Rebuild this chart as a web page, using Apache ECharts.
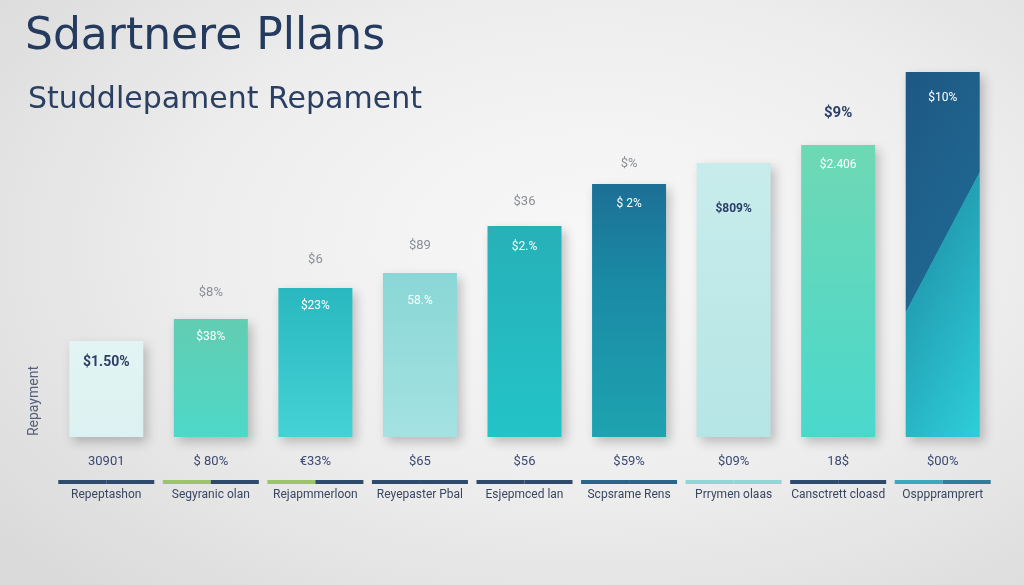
<!DOCTYPE html>
<html>
<head>
<meta charset="utf-8">
<script src="https://cdn.jsdelivr.net/npm/echarts@6/dist/echarts.min.js"></script>
<style>
html,body{margin:0;padding:0;width:1024px;height:585px;overflow:hidden;}
body{background:radial-gradient(ellipse 75% 80% at 58% 42%, #f8f8f8 0%, #eeeeee 50%, #dadada 100%);}
#chart{width:1024px;height:585px;}
</style>
</head>
<body>
<div id="chart"></div>
<script>
const categories = ['Repeptashon','Segyranic olan','Rejapmmerloon','Reyepaster Pbal','Esjepmced lan','Scpsrame Rens','Prrymen olaas','Cansctrett cloasd','Ospppramprert'];
const values = [96, 118, 149, 164, 211, 253, 274, 292, 365];
const insideLabels = ['$1.50%', '$38%', '$23%', '58.%', '$2.%', '$ 2%', '$809%', '$2.406', '$10%'];
const topLabels = ['', '$8%', '$6', '$89', '$36', '$%', '', '$9%', ''];
const valueLabels = ['30901', '$ 80%', '€33%', '$65', '$56', '$59%', '$09%', '18$', '$00%'];
const title = 'Sdartnere Pllans';
const subtitle = 'Studdlepament Repament';
const yName = 'Repayment';

// styles
const G = echarts.graphic.LinearGradient;
const barFills = [
  new G(0,0,0,1,[{offset:0,color:'#e3f4f4'},{offset:1,color:'#dcf1f1'}]),
  new G(0,0,0,1,[{offset:0,color:'#62cdb2'},{offset:1,color:'#4dd8c8'}]),
  new G(0,0,0,1,[{offset:0,color:'#2ab8c0'},{offset:1,color:'#44d2d6'}]),
  new G(0,0,0,1,[{offset:0,color:'#8ad6d6'},{offset:1,color:'#a4e2e2'}]),
  new G(0,0,0,1,[{offset:0,color:'#27b0b8'},{offset:1,color:'#22c4c8'}]),
  new G(0,0,0,1,[{offset:0,color:'#1d6f96'},{offset:0.35,color:'#1a88a4'},{offset:1,color:'#1ea3b0'}]),
  new G(0,0,0,1,[{offset:0,color:'#c8ecec'},{offset:1,color:'#b6e5e5'}]),
  new G(0,0,0,1,[{offset:0,color:'#6fd8b4'},{offset:1,color:'#4ad8cc'}]),
  new G(0,0,3,0.321,[{offset:0,color:'#1e5884'},{offset:0.445,color:'#1f6590'},{offset:0.447,color:'#23a0b4'},{offset:0.97,color:'#2ed2da'}])
];
const insideColors = ['#2c3e66','#ffffff','#ffffff','#ffffff','#ffffff','#ffffff','#2c3e66','#ffffff','#ffffff'];
const insideDist = [14, 12, 12, 22, 15, 14, 40, 14, 20];
const topColors = ['#8a8f96','#8a8f96','#8a8f96','#8a8f96','#8a8f96','#8a8f96','#8a8f96','#2c3e66','#8a8f96'];
const topDist = [20, 20, 22, 21, 18, 14, 20, 24, 20];
const lineColors = [
  ['#2e4a6c','#2e4a6c'],['#9cc46a','#2e4a6c'],['#9cc46a','#2e4a6c'],['#2e4a6c','#2e4a6c'],['#2e4a6c','#2e4a6c'],
  ['#2a6688','#2a6688'],['#8fd6d6','#8fd6d6'],['#2e4a6c','#2e4a6c'],['#3aa9b8','#2f7f98']
];

const rich = {
  v: {fontSize: 13, color: '#3b4a72', lineHeight: 20, fontFamily: 'Roboto, sans-serif'},
  n: {fontSize: 12, color: '#3a4660', lineHeight: 6, fontFamily: 'Roboto, sans-serif'}
};
lineColors.forEach((c, i) => {
  rich['a' + i] = {width: 48, height: 4, lineHeight: 20, backgroundColor: c[0]};
  rich['b' + i] = {width: 48, height: 4, lineHeight: 20, backgroundColor: c[1]};
});

const chart = echarts.init(document.getElementById('chart'), null, {renderer: 'canvas'});
chart.setOption({
  backgroundColor: 'transparent',
  animation: false,
  title: [
    {text: title, left: 20, top: 11, textStyle: {fontSize: 44, fontWeight: 'normal', color: '#243a5e', fontFamily: 'DejaVu Sans, sans-serif'}},
    {text: subtitle, left: 23, top: 80, textStyle: {fontSize: 30, fontWeight: 'normal', color: '#2a3f62', fontFamily: 'DejaVu Sans, sans-serif'}}
  ],
  graphic: [{type: 'text', left: 27, top: 366, rotation: Math.PI / 2,
    style: {text: yName, fontSize: 14, fill: '#55607a', fontFamily: 'Roboto, sans-serif'}}],
  grid: {left: 54, right: 29, top: 37, bottom: 148},
  xAxis: {
    type: 'category', data: categories,
    axisLine: {show: false}, axisTick: {show: false},
    axisLabel: {
      interval: 0, margin: 15, rich: rich,
      formatter: (val, i) => '{v|' + valueLabels[i] + '}\n{a' + i + '| }{b' + i + '| }\n{n|' + val + '}'
    }
  },
  yAxis: {type: 'value', min: 0, max: 400, show: false},
  series: [
    {
      type: 'bar', barWidth: 74,
      data: values.map((v, i) => ({
        value: v,
        itemStyle: {color: barFills[i], shadowBlur: 10, shadowOffsetX: 4, shadowOffsetY: 5, shadowColor: 'rgba(0,0,0,0.22)'},
        label: {show: true, position: 'insideTop', distance: insideDist[i], formatter: insideLabels[i],
          color: insideColors[i], fontSize: i === 0 ? 14 : 12, fontWeight: i === 0 || i === 6 ? 'bold' : 'normal',
          fontFamily: 'Roboto, sans-serif'}
      }))
    },
    {
      type: 'bar', barWidth: 74, barGap: '-100%', silent: true,
      data: values.map((v, i) => ({
        value: v,
        itemStyle: {color: 'transparent'},
        label: {show: topLabels[i] !== '', position: 'top', distance: topDist[i], formatter: topLabels[i],
          color: topColors[i], fontSize: i === 7 ? 15 : 13, fontWeight: i === 7 ? 'bold' : 'normal',
          fontFamily: 'Roboto, sans-serif'}
      }))
    }
  ]
});
</script>
</body>
</html>
